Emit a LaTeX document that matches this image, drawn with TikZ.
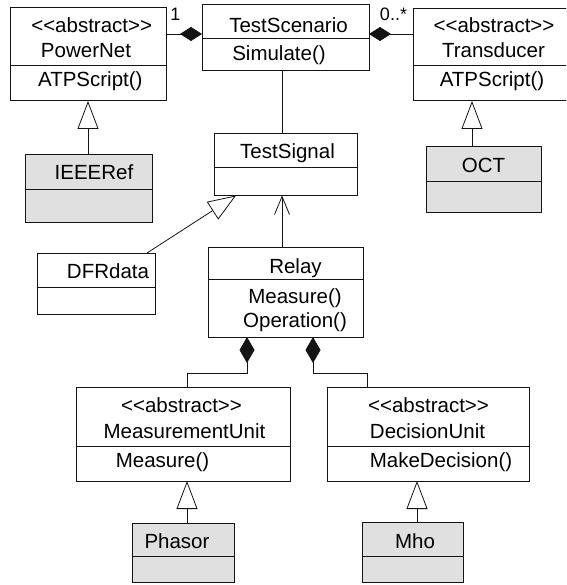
\documentclass[tikz,border=0pt]{standalone}
\usepackage{fontspec}
\newfontfamily\umlfont{Liberation Sans}
\usetikzlibrary{arrows.meta,calc}

\definecolor{subfill}{RGB}{224,224,224}
\definecolor{umlline}{RGB}{20,20,20}

\tikzset{
  classbox/.style={draw=umlline, line width=1pt, rectangle, inner sep=0pt, outer sep=0pt},
  classtext/.style={font=\umlfont\fontsize{20.5}{24}\selectfont, inner sep=0pt, anchor=base},
  multtext/.style={font=\umlfont\fontsize{18}{20}\selectfont, inner sep=0pt, anchor=base},
  conn/.style={draw=umlline, line width=0.8pt},
  inherit/.style={conn, -{Triangle[open, length=28pt, width=21pt, line width=0.8pt]}},
  compose/.style={conn, -{Diamond[length=22pt, width=14pt]}},
  composelong/.style={conn, -{Diamond[length=26pt, width=15pt]}},
  navig/.style={conn, -{Straight Barb[length=18pt, width=15pt, line width=0.8pt]}},
}

% class rectangle: name, left, top, right, bottom, divider, fill
\newcommand\umlclass[7]{%
  \node[classbox, fill=#7, minimum width={((#4)-(#2))*1pt}, minimum height={((#5)-(#3))*1pt}]
    (#1) at ({((#2)+(#4))/2},{((#3)+(#5))/2}) {};
  \draw[classbox] (#2,#6) -- (#4,#6);
}

\begin{document}
\begin{tikzpicture}[x=1pt, y=-1pt]
\useasboundingbox (0,0) rectangle (566,585);
\fill[white] (0,0) rectangle (566,585);
\clip (0,0) rectangle (566,585);

% classes
\umlclass{pn}{10}{8}{166}{101}{66}{white}
\umlclass{ts}{202}{5}{369}{71}{39}{white}
\umlclass{td}{413}{9}{575}{101}{66}{white}
\umlclass{tsig}{214}{134}{357}{195.5}{168}{white}
\umlclass{ieee}{25}{155}{152}{222}{190}{subfill}
\umlclass{oct}{426}{147}{541}{212}{182}{subfill}
\umlclass{dfr}{37}{253}{155}{314}{287}{white}
\umlclass{relay}{208}{247}{363}{337}{279}{white}
\umlclass{mu}{76}{387}{290}{481}{446}{white}
\umlclass{du}{327}{387}{529}{481}{446}{white}
\umlclass{phasor}{132}{523}{234}{582}{556}{subfill}
\umlclass{mho}{362}{522}{463}{582}{556}{subfill}

% class texts
\node[classtext] (pn-st)  at (91.7,33) {<<abstract>>};
\node[classtext] (pn-nm)  at (86,58)   {PowerNet};
\node[classtext] (pn-op)  at (90.3,87) {ATPScript()};

\node[classtext] (ts-nm)  at (288.5,32.5) {TestScenario};
\node[classtext] (ts-op)  at (279,60.5)   {Simulate()};

\node[classtext] (td-st)  at (494,33)   {<<abstract>>};
\node[classtext] (td-nm)  at (493.5,58) {Transducer};
\node[classtext] (td-op)  at (492,87)   {ATPScript()};

\node[classtext] (tsig-nm) at (287.5,159) {TestSignal};
\node[classtext] (ieee-nm) at (94,180)    {IEEERef};
\node[classtext] (oct-nm)  at (483.5,173) {OCT};
\node[classtext] (dfr-nm)  at (108,278)   {DFRdata};

\node[classtext] (relay-nm)  at (295.5,273) {Relay};
\node[classtext] (relay-op1) at (295,303)   {Measure()};
\node[classtext] (relay-op2) at (295,327)   {Operation()};

\node[classtext] (mu-st) at (181.5,412) {<<abstract>>};
\node[classtext] (mu-nm) at (184.5,438) {MeasurementUnit};
\node[classtext] (mu-op) at (162.5,467) {Measure()};

\node[classtext] (du-st) at (428.5,412) {<<abstract>>};
\node[classtext] (du-nm) at (427.5,438) {DecisionUnit};
\node[classtext] (du-op) at (441,467)   {MakeDecision()};

\node[classtext] (phasor-nm) at (177,548) {Phasor};
\node[classtext] (mho-nm)    at (415,548) {Mho};

% multiplicities
\node[multtext] (m-one)  at (175.5,21) {1};
\node[multtext] (m-many) at (393.5,21) {0..*};

% compositions of the test scenario
\draw[compose] ($(pn.north east)+(0,26)$) -- ($(ts.north west)+(0,29)$);
\draw[compose] ($(td.north west)+(0,25)$) -- ($(ts.north east)+(0,29)$);

% scenario to signal
\coordinate (ts-low) at ($(ts.south)+(-3.5,0)$);
\draw[conn] (ts-low) -- (ts-low |- tsig.north);

% generalizations
\draw[inherit] (pn.south |- ieee.north) -- (pn.south);
\coordinate (oct-up) at ($(oct.north)+(-11.5,0)$);
\draw[inherit] (oct-up) -- (oct-up |- td.south);
\coordinate (dfr-up) at ($(dfr.north west)+(110,0)$);
\coordinate (tsig-low) at ($(tsig.south west)+(22,0)$);
\draw[inherit] (dfr-up) -- (tsig-low);
\coordinate (phasor-up) at ($(phasor.north)+(4,0)$);
\draw[inherit] (phasor-up) -- (phasor-up |- mu.south);
\coordinate (mho-up) at ($(mho.north)+(4.5,0)$);
\draw[inherit] (mho-up) -- (mho-up |- du.south);

% relay uses the test signal
\coordinate (relay-up) at ($(relay.north)+(-3.5,0)$);
\draw[navig] (relay-up) -- (relay-up |- tsig.south);

% relay is composed of its units
\coordinate (mu-up) at ($(mu.north west)+(111,0)$);
\coordinate (relay-l) at ($(relay.south west)+(39,0)$);
\draw[composelong] (mu-up) -- ++(0,-14) -| (relay-l);
\coordinate (du-up) at ($(du.north west)+(40,0)$);
\coordinate (relay-r) at ($(relay.south west)+(105,0)$);
\draw[composelong] (du-up) -- ++(0,-14) -| (relay-r);
\end{tikzpicture}
\end{document}
